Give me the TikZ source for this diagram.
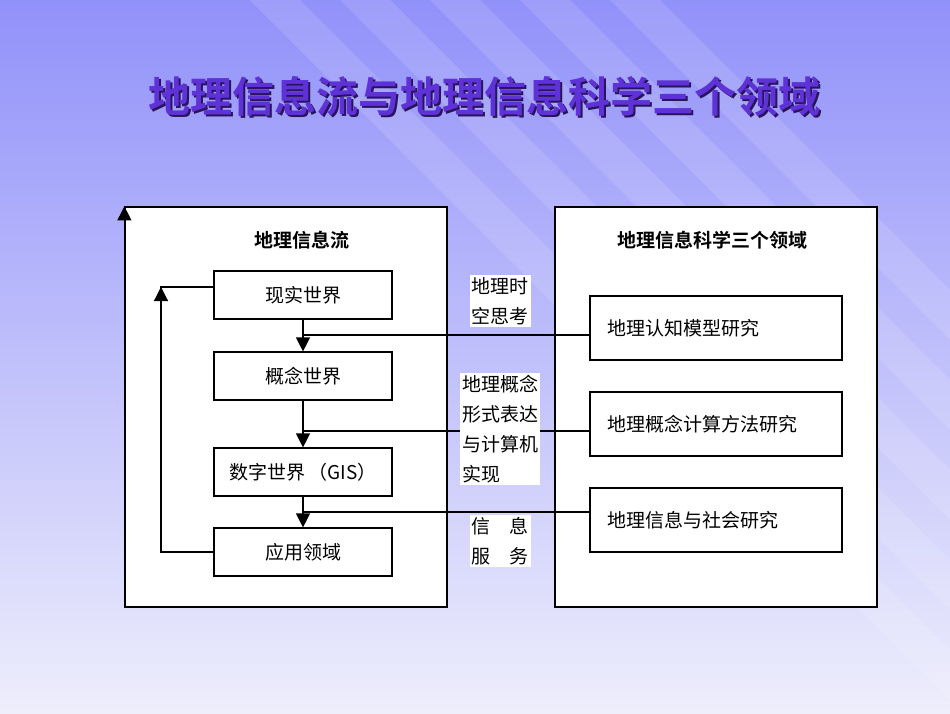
\documentclass[tikz,border=0pt]{standalone}
\usepackage{fontspec}
\setmainfont{Liberation Serif}
\newfontfamily\cjk{Noto Sans CJK SC}
\newfontfamily\cjkb{Noto Sans CJK SC Bold}
\usetikzlibrary{arrows.meta}
\begin{document}
\begin{tikzpicture}[x=1pt,y=-1pt,
  box/.style={draw,fill=white,line width=1.2pt,minimum width=178pt,minimum height=48pt,font=\cjk\fontsize{19}{19}\selectfont},
  rbox/.style={draw,fill=white,line width=1.2pt,minimum width=252pt,minimum height=64pt,font=\cjk\fontsize{19}{19}\selectfont,text width=218pt,align=left},
  outer/.style={draw,fill=white,line width=1.2pt,minimum width=322pt,minimum height=400pt},
  lbl/.style={fill=white,inner sep=2pt,align=left,font=\cjk\fontsize{19}{30}\selectfont},
  conn/.style={line width=1.2pt},
  arr/.style={line width=1.2pt,-{Triangle[length=14pt,width=14pt]}}]
\useasboundingbox (0,0) rectangle (950,713);
\shade[top color={rgb,255:red,145;green,145;blue,250},bottom color={rgb,255:red,238;green,238;blue,252}] (0,0) rectangle (950,713);
\foreach \d in {0,90,180,270,360}{
  \fill[white,opacity=0.12] (250+\d,0) -- (300+\d,0) -- (950,650-\d) -- (950,700-\d) -- cycle;}
\node[font=\cjkb\fontsize{42}{42}\selectfont] (title) at (484,97) {\rlap{\raisebox{-2pt}{\hspace{2pt}\textcolor[RGB]{40,20,90}{地理信息流与地理信息科学三个领域}}}\textcolor[RGB]{95,50,215}{地理信息流与地理信息科学三个领域}};
\node[outer] (L) at (286,407) {};
\node[outer] (R) at (716,407) {};
\node[font=\cjkb\fontsize{19}{19}\selectfont] (Lt) at (302,240) {地理信息流};
\node[font=\cjkb\fontsize{19}{19}\selectfont] (Rt) at (712,240) {地理信息科学三个领域};
\node[box] (a) at (303,295) {现实世界};
\node[box] (b) at (303,376) {概念世界};
\node[box] (c) at (303,472) {数字世界\,（GIS）};
\node[box] (d) at (303,552) {应用领域};
\node[rbox] (r1) at (716,328) {地理认知模型研究};
\node[rbox] (r2) at (716,424) {地理概念计算方法研究};
\node[rbox] (r3) at (716,520) {地理信息与社会研究};
\coordinate (j1) at (303,335);
\coordinate (j2) at (303,431);
\coordinate (j3) at (303,512);
\draw[arr] (a) -- (b);
\draw[arr] (b) -- (c);
\draw[arr] (c) -- (d);
\draw[conn] (j1) -- (r1.west |- j1);
\draw[conn] (j2) -- (r2.west |- j2);
\draw[conn] (j3) -- (r3.west |- j3);
\coordinate (lp) at (161,287);
\draw[conn] (d.west) -| (lp) -- (a.west |- lp);
\draw[arr] (161,330) -- (lp);
\draw[arr] (L.south west) -- (L.north west);
\node[lbl] (t1) at (500,301) {地理时\\空思考};
\node[lbl] (t2) at (500,429) {地理概念\\形式表达\\与计算机\\实现};
\node[lbl] (t3) at (500,541) {信\hspace{1em}息\\服\hspace{1em}务};
\end{tikzpicture}
\end{document}
